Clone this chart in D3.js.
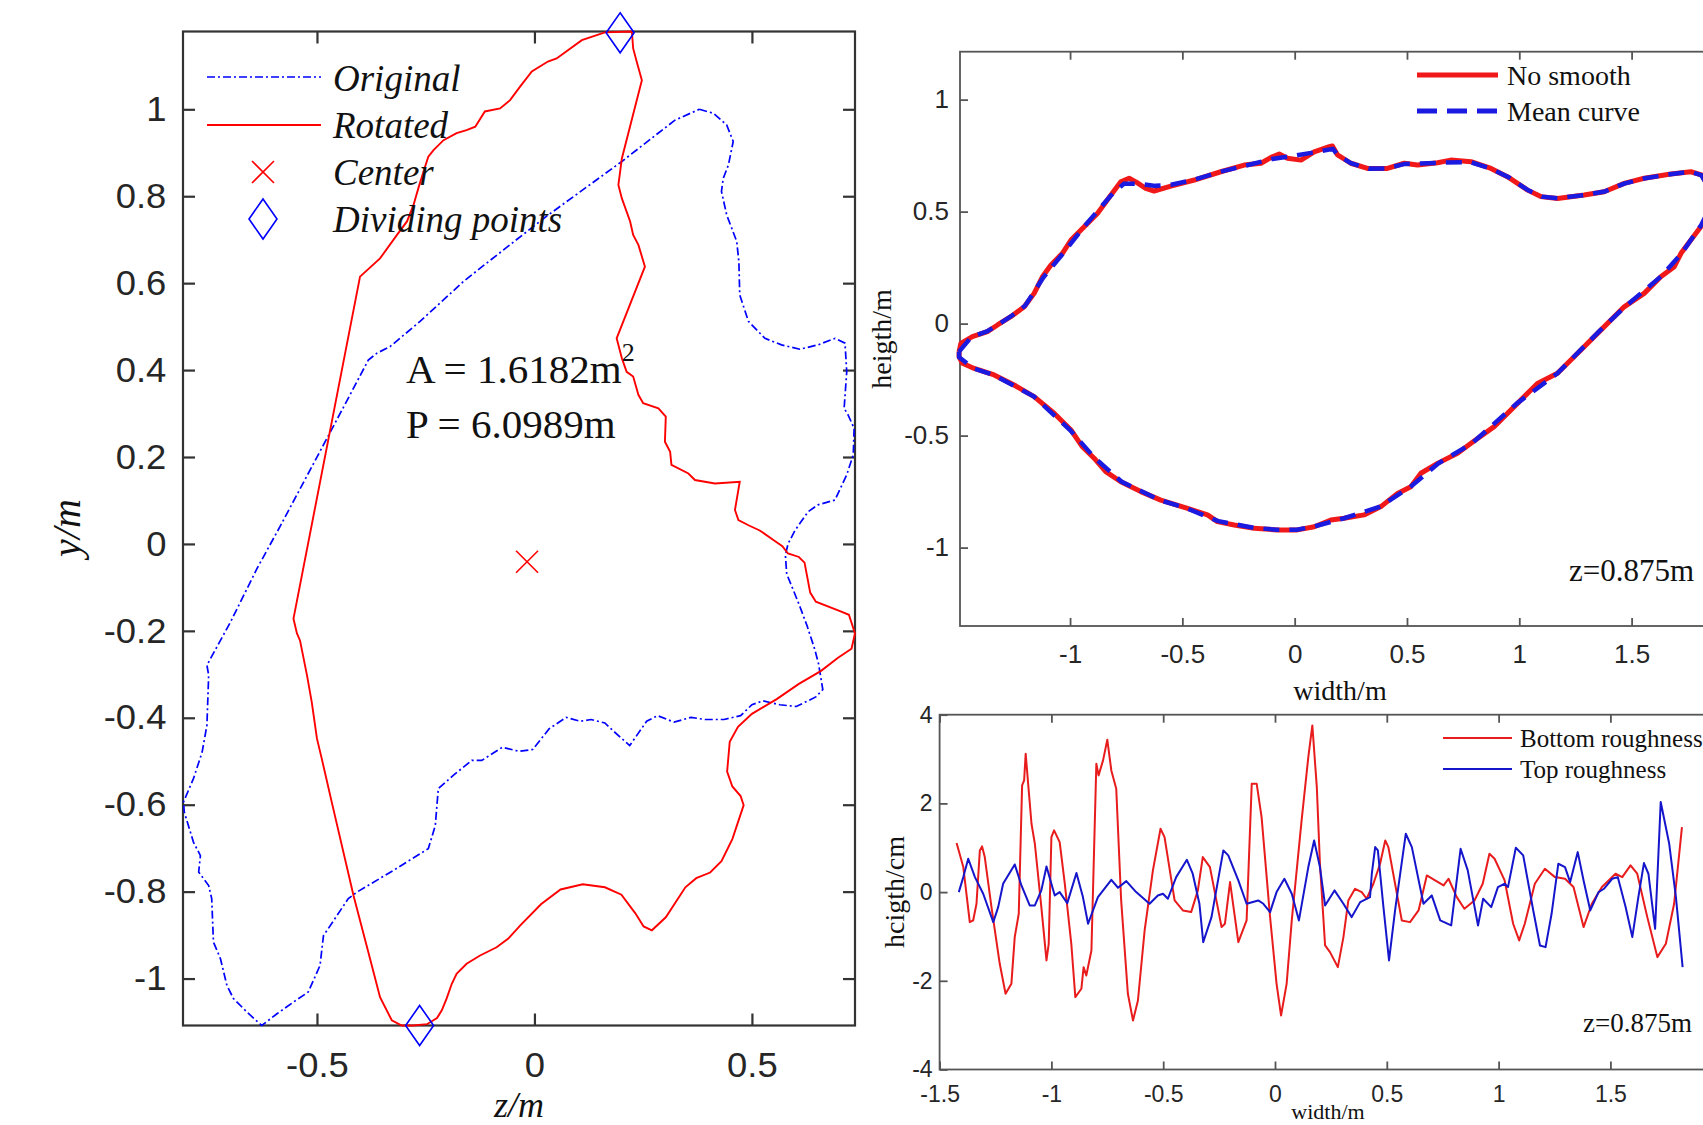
<!DOCTYPE html>
<html>
<head>
<meta charset="utf-8">
<title>section contour and roughness</title>
<script src="https://d3js.org/d3.v7.min.js"></script>
<style>
  body { margin: 0; background: #fff; }
</style>
</head>
<body>
<script>
// ---------- data ----------
// left panel: cross-section in the z-y plane (m)
var original = [[0.379,1.000],[0.411,0.991],[0.442,0.964],[0.457,0.926],[0.446,0.872],[0.434,0.841],[0.430,0.811],[0.442,0.757],[0.465,0.696],[0.470,0.650],[0.472,0.573],[0.492,0.512],[0.530,0.473],[0.568,0.458],[0.610,0.448],[0.652,0.458],[0.691,0.473],[0.714,0.462],[0.718,0.396],[0.712,0.312],[0.721,0.297],[0.735,0.266],[0.733,0.205],[0.718,0.159],[0.691,0.101],[0.652,0.090],[0.629,0.074],[0.599,0.031],[0.583,0.000],[0.577,-0.026],[0.580,-0.069],[0.608,-0.138],[0.627,-0.189],[0.644,-0.241],[0.653,-0.275],[0.663,-0.335],[0.647,-0.352],[0.602,-0.374],[0.564,-0.370],[0.525,-0.361],[0.500,-0.370],[0.474,-0.395],[0.436,-0.404],[0.392,-0.404],[0.360,-0.399],[0.321,-0.410],[0.283,-0.395],[0.258,-0.408],[0.219,-0.464],[0.181,-0.430],[0.162,-0.412],[0.130,-0.404],[0.105,-0.408],[0.073,-0.399],[0.034,-0.425],[-0.004,-0.473],[-0.036,-0.477],[-0.074,-0.468],[-0.121,-0.498],[-0.144,-0.498],[-0.186,-0.532],[-0.221,-0.563],[-0.228,-0.648],[-0.244,-0.701],[-0.324,-0.751],[-0.408,-0.801],[-0.428,-0.816],[-0.474,-0.885],[-0.485,-0.901],[-0.493,-0.970],[-0.520,-1.031],[-0.554,-1.054],[-0.592,-1.081],[-0.627,-1.108],[-0.661,-1.077],[-0.692,-1.046],[-0.707,-1.016],[-0.722,-0.954],[-0.738,-0.916],[-0.742,-0.816],[-0.749,-0.786],[-0.772,-0.755],[-0.768,-0.717],[-0.784,-0.686],[-0.805,-0.617],[-0.807,-0.594],[-0.784,-0.540],[-0.764,-0.479],[-0.753,-0.417],[-0.749,-0.302],[-0.753,-0.279],[-0.699,-0.180],[-0.638,-0.057],[-0.585,0.040],[-0.477,0.243],[-0.424,0.343],[-0.382,0.423],[-0.362,0.439],[-0.332,0.454],[-0.263,0.512],[-0.163,0.604],[-0.110,0.646],[-0.040,0.701],[0.032,0.757],[0.201,0.880],[0.323,0.975]];

var rotated = [[0.224,1.179],[0.162,1.177],[0.109,1.159],[0.051,1.117],[0.031,1.110],[-0.006,1.087],[-0.033,1.052],[-0.056,1.021],[-0.079,1.002],[-0.114,0.995],[-0.136,0.960],[-0.156,0.952],[-0.179,0.945],[-0.209,0.929],[-0.232,0.906],[-0.244,0.891],[-0.255,0.857],[-0.267,0.818],[-0.278,0.780],[-0.293,0.742],[-0.316,0.711],[-0.355,0.657],[-0.401,0.615],[-0.554,-0.172],[-0.546,-0.206],[-0.539,-0.222],[-0.523,-0.302],[-0.512,-0.364],[-0.500,-0.448],[-0.489,-0.494],[-0.466,-0.594],[-0.416,-0.809],[-0.382,-0.939],[-0.355,-1.043],[-0.328,-1.096],[-0.305,-1.108],[-0.278,-1.108],[-0.247,-1.105],[-0.224,-1.091],[-0.213,-1.073],[-0.202,-1.046],[-0.190,-1.012],[-0.179,-0.989],[-0.156,-0.966],[-0.125,-0.947],[-0.087,-0.928],[-0.060,-0.908],[-0.033,-0.878],[0.015,-0.829],[0.060,-0.795],[0.111,-0.783],[0.162,-0.790],[0.200,-0.807],[0.232,-0.850],[0.251,-0.880],[0.270,-0.889],[0.302,-0.859],[0.347,-0.790],[0.372,-0.769],[0.404,-0.756],[0.430,-0.730],[0.455,-0.679],[0.481,-0.601],[0.474,-0.580],[0.455,-0.558],[0.443,-0.524],[0.449,-0.455],[0.468,-0.421],[0.500,-0.391],[0.557,-0.357],[0.608,-0.322],[0.659,-0.292],[0.698,-0.262],[0.729,-0.241],[0.737,-0.206],[0.723,-0.163],[0.704,-0.155],[0.647,-0.133],[0.634,-0.112],[0.621,-0.043],[0.608,-0.030],[0.583,-0.022],[0.570,-0.005],[0.551,0.008],[0.518,0.031],[0.492,0.043],[0.469,0.055],[0.461,0.078],[0.472,0.143],[0.415,0.139],[0.369,0.147],[0.354,0.162],[0.315,0.182],[0.312,0.212],[0.300,0.235],[0.302,0.293],[0.285,0.312],[0.250,0.324],[0.239,0.343],[0.227,0.385],[0.212,0.396],[0.201,0.427],[0.189,0.473],[0.254,0.638],[0.239,0.688],[0.227,0.711],[0.220,0.742],[0.201,0.795],[0.193,0.826],[0.201,0.887],[0.247,1.067],[0.235,1.110],[0.227,1.140]];

var center = [-0.017, -0.041];
var dividing = [[0.197, 1.176], [-0.264, -1.108]];
var areaText = "A = 1.6182m", perimText = "P = 6.0989m";

// upper right: contour in the width-height plane (m)
var noSmooth = [[-1.494,-0.125],[-1.486,-0.088],[-1.435,-0.058],[-1.368,-0.036],[-1.323,-0.006],[-1.264,0.031],[-1.204,0.075],[-1.160,0.135],[-1.123,0.209],[-1.085,0.262],[-1.034,0.314],[-0.996,0.373],[-0.937,0.433],[-0.878,0.492],[-0.818,0.574],[-0.774,0.633],[-0.737,0.649],[-0.707,0.633],[-0.663,0.604],[-0.626,0.592],[-0.551,0.614],[-0.447,0.641],[-0.329,0.678],[-0.225,0.708],[-0.150,0.716],[-0.099,0.745],[-0.069,0.757],[-0.032,0.738],[0.028,0.730],[0.087,0.767],[0.154,0.790],[0.168,0.793],[0.191,0.753],[0.250,0.716],[0.324,0.693],[0.413,0.693],[0.488,0.716],[0.547,0.708],[0.636,0.718],[0.695,0.730],[0.785,0.723],[0.874,0.693],[0.947,0.656],[1.037,0.596],[1.096,0.567],[1.170,0.559],[1.289,0.574],[1.378,0.589],[1.467,0.626],[1.556,0.649],[1.675,0.668],[1.764,0.678],[1.814,0.663],[1.870,0.560],[1.814,0.440],[1.764,0.373],[1.720,0.314],[1.690,0.254],[1.630,0.209],[1.556,0.135],[1.467,0.075],[1.363,-0.029],[1.244,-0.148],[1.170,-0.222],[1.081,-0.267],[0.992,-0.356],[0.888,-0.460],[0.785,-0.534],[0.725,-0.579],[0.636,-0.624],[0.562,-0.668],[0.517,-0.728],[0.458,-0.758],[0.384,-0.817],[0.309,-0.854],[0.220,-0.869],[0.161,-0.877],[0.087,-0.907],[0.012,-0.921],[-0.077,-0.921],[-0.180,-0.914],[-0.269,-0.899],[-0.344,-0.884],[-0.388,-0.854],[-0.477,-0.825],[-0.596,-0.788],[-0.685,-0.750],[-0.774,-0.706],[-0.841,-0.661],[-0.893,-0.601],[-0.945,-0.550],[-0.996,-0.475],[-1.071,-0.400],[-1.160,-0.326],[-1.249,-0.274],[-1.338,-0.229],[-1.427,-0.200],[-1.479,-0.177],[-1.494,-0.148]];

var meanCurve = [[-1.494,-0.125],[-1.440,-0.060],[-1.370,-0.035],[-1.320,-0.005],[-1.260,0.035],[-1.200,0.080],[-1.120,0.205],[-1.030,0.315],[-0.940,0.430],[-0.820,0.570],[-0.760,0.625],[-0.700,0.625],[-0.620,0.615],[-0.550,0.620],[-0.450,0.642],[-0.330,0.678],[-0.220,0.705],[-0.100,0.735],[0.000,0.750],[0.090,0.765],[0.170,0.780],[0.190,0.755],[0.250,0.716],[0.330,0.692],[0.410,0.693],[0.490,0.713],[0.640,0.718],[0.780,0.722],[0.870,0.693],[0.950,0.655],[1.040,0.595],[1.100,0.567],[1.170,0.560],[1.290,0.574],[1.380,0.590],[1.470,0.626],[1.560,0.649],[1.680,0.668],[1.760,0.678],[1.810,0.663],[1.870,0.560],[1.810,0.440],[1.720,0.310],[1.630,0.210],[1.470,0.075],[1.360,-0.030],[1.170,-0.222],[0.990,-0.356],[0.790,-0.534],[0.640,-0.624],[0.520,-0.725],[0.380,-0.817],[0.220,-0.869],[0.090,-0.905],[0.010,-0.920],[-0.080,-0.920],[-0.180,-0.912],[-0.340,-0.882],[-0.480,-0.825],[-0.600,-0.788],[-0.770,-0.706],[-0.890,-0.600],[-1.000,-0.475],[-1.160,-0.326],[-1.340,-0.229],[-1.430,-0.200],[-1.494,-0.150]];

// lower right: roughness profiles (width m, height cm)
var bottomRough = [[-1.424,1.105],[-1.394,0.564],[-1.365,-0.677],[-1.350,-0.639],[-1.335,-0.263],[-1.320,0.940],[-1.310,1.030],[-1.298,0.789],[-1.268,-0.338],[-1.231,-1.617],[-1.205,-2.293],[-1.179,-2.068],[-1.164,-1.015],[-1.146,-0.489],[-1.131,2.406],[-1.122,2.519],[-1.115,3.120],[-1.104,2.444],[-1.089,1.541],[-1.074,1.090],[-1.045,-0.338],[-1.022,-1.541],[-1.012,-1.165],[-1.000,1.241],[-0.988,1.391],[-0.963,1.128],[-0.940,0.188],[-0.911,-1.165],[-0.893,-2.368],[-0.866,-2.180],[-0.856,-1.692],[-0.844,-1.880],[-0.821,-1.316],[-0.799,2.895],[-0.789,2.632],[-0.769,2.970],[-0.750,3.436],[-0.732,2.744],[-0.710,2.331],[-0.688,-0.188],[-0.658,-2.293],[-0.635,-2.895],[-0.613,-2.444],[-0.583,-0.865],[-0.546,0.489],[-0.512,1.429],[-0.494,1.241],[-0.449,-0.188],[-0.412,-0.414],[-0.375,-0.451],[-0.345,0.038],[-0.323,0.789],[-0.291,0.564],[-0.239,-0.789],[-0.224,-0.714],[-0.201,0.226],[-0.164,-1.128],[-0.127,-0.639],[-0.104,2.444],[-0.082,2.444],[-0.060,1.692],[-0.022,-0.564],[0.007,-2.068],[0.027,-2.782],[0.052,-2.068],[0.075,-0.639],[0.119,1.617],[0.149,3.045],[0.167,3.759],[0.187,2.368],[0.201,0.639],[0.224,-1.203],[0.246,-1.353],[0.281,-1.692],[0.306,-1.015],[0.328,-0.188],[0.358,0.075],[0.388,0.000],[0.410,-0.150],[0.440,0.188],[0.470,0.639],[0.493,1.165],[0.507,1.015],[0.537,0.188],[0.567,-0.639],[0.604,-0.677],[0.642,-0.414],[0.679,0.376],[0.716,0.263],[0.754,0.150],[0.776,0.301],[0.813,-0.113],[0.847,-0.376],[0.892,-0.188],[0.929,0.188],[0.959,0.865],[0.982,0.752],[1.027,0.263],[1.065,-0.714],[1.092,-1.090],[1.117,-0.714],[1.162,0.188],[1.207,0.526],[1.252,0.338],[1.297,0.301],[1.335,0.113],[1.380,-0.789],[1.417,-0.263],[1.462,0.113],[1.523,0.414],[1.553,0.338],[1.590,0.602],[1.620,0.414],[1.665,-0.564],[1.710,-1.466],[1.748,-1.165],[1.785,-0.263],[1.820,1.466]];

var topRough = [[-1.414,0.000],[-1.394,0.338],[-1.372,0.752],[-1.342,0.338],[-1.305,-0.038],[-1.260,-0.677],[-1.238,-0.338],[-1.216,0.188],[-1.164,0.624],[-1.134,0.150],[-1.097,-0.301],[-1.074,-0.301],[-1.045,0.038],[-1.022,0.579],[-0.985,-0.075],[-0.963,0.000],[-0.929,-0.248],[-0.888,0.429],[-0.859,-0.113],[-0.836,-0.714],[-0.792,-0.113],[-0.732,0.278],[-0.702,0.098],[-0.665,0.248],[-0.621,0.000],[-0.561,-0.263],[-0.524,-0.075],[-0.501,-0.038],[-0.479,-0.150],[-0.442,0.338],[-0.394,0.729],[-0.368,0.414],[-0.338,-0.263],[-0.321,-1.128],[-0.284,-0.564],[-0.231,0.940],[-0.209,0.827],[-0.164,0.263],[-0.127,-0.263],[-0.075,-0.188],[-0.052,-0.263],[-0.022,-0.451],[0.007,0.000],[0.042,0.301],[0.075,-0.038],[0.107,-0.639],[0.149,0.564],[0.175,1.165],[0.201,0.564],[0.224,-0.301],[0.266,0.038],[0.306,-0.263],[0.343,-0.564],[0.381,-0.226],[0.425,-0.113],[0.433,0.414],[0.448,1.015],[0.460,0.940],[0.485,-0.338],[0.510,-1.541],[0.537,-0.414],[0.585,1.316],[0.612,1.015],[0.664,-0.263],[0.701,-0.075],[0.739,-0.639],[0.788,-0.752],[0.830,0.977],[0.862,0.489],[0.908,-0.752],[0.931,-0.150],[0.967,-0.338],[0.997,0.113],[1.027,0.188],[1.042,0.113],[1.077,1.000],[1.110,0.827],[1.155,-0.414],[1.185,-1.203],[1.210,-1.241],[1.237,-0.489],[1.267,0.639],[1.297,0.564],[1.320,0.226],[1.354,0.902],[1.380,0.263],[1.410,-0.414],[1.447,0.000],[1.471,0.075],[1.508,0.301],[1.533,0.338],[1.568,-0.338],[1.598,-1.015],[1.625,-0.113],[1.650,0.654],[1.670,0.414],[1.700,-0.827],[1.725,2.030],[1.763,1.090],[1.793,-0.113],[1.823,-1.692]];

// ticks
var leftXTicks = [-0.5, 0, 0.5];
var leftYTicks = [-1, -0.8, -0.6, -0.4, -0.2, 0, 0.2, 0.4, 0.6, 0.8, 1];
var topXTicks = [-1, -0.5, 0, 0.5, 1, 1.5];
var topYTicks = [-1, -0.5, 0, 0.5, 1];
var botXTicks = [-1.5, -1, -0.5, 0, 0.5, 1, 1.5];
var botYTicks = [-4, -2, 0, 2, 4];

// ---------- drawing ----------
var sans = "'Liberation Sans', Arial, Helvetica, sans-serif";
var serif = "'Liberation Serif', 'Times New Roman', Times, serif";
function fmt(d) { return String(+d.toFixed(2)); }
function closed(a) { return a.concat([a[0]]); }

var svg = d3.select('body').append('svg')
  .attr('width', 1703).attr('height', 1125);

// helper to draw inward ticks on all requested sides
function axes(g, x, y, opt) {
  var x0 = x.range()[0], x1 = x.range()[1], y0 = y.range()[0], y1 = y.range()[1];
  g.append('g').attr('transform', 'translate(0,' + y0 + ')')
    .call(d3.axisBottom(x).tickValues(opt.xt).tickSize(-opt.tl).tickPadding(opt.xpad).tickFormat(fmt));
  g.append('g').attr('transform', 'translate(' + x0 + ',0)')
    .call(d3.axisLeft(y).tickValues(opt.yt).tickSize(-opt.tl).tickPadding(opt.ypad).tickFormat(fmt));
  g.append('g').attr('transform', 'translate(0,' + y1 + ')')
    .call(d3.axisTop(x).tickValues(opt.xt).tickSize(-opt.tl).tickFormat(''));
  if (opt.right) {
    g.append('g').attr('transform', 'translate(' + x1 + ',0)')
      .call(d3.axisRight(y).tickValues(opt.yt).tickSize(-opt.tl).tickFormat(''));
  }
  g.selectAll('.domain').remove();
  g.selectAll('g').attr('font-family', sans).attr('font-size', opt.fs).attr('color', opt.col);
  g.selectAll('.tick line').attr('stroke-width', opt.sw);
  g.selectAll('.tick text').attr('fill', '#262626');
  if (opt.sx) g.selectAll('.tick text').attr('transform', 'scale(' + opt.sx + ',1)');
  g.append('rect').attr('x', x0).attr('y', y1)
    .attr('width', x1 - x0).attr('height', y0 - y1)
    .attr('fill', 'none').attr('stroke', opt.col).attr('stroke-width', opt.sw);
}

// ----- left panel -----
var ax = d3.scaleLinear().domain([-0.808, 0.737]).range([183, 855]);
var ay = d3.scaleLinear().domain([-1.108, 1.179]).range([1025.5, 31.5]);
var gl = svg.append('g');
axes(gl, ax, ay, { xt: leftXTicks, yt: leftYTicks, tl: 12, xpad: 27, ypad: 16,
  fs: 35, col: '#333', sw: 2.2, right: true, sx: 1.04 });

var lineA = d3.line().x(function (d) { return ax(d[0]); }).y(function (d) { return ay(d[1]); });
gl.append('path').datum(closed(original)).attr('d', lineA)
  .attr('fill', 'none').attr('stroke', '#0000ff').attr('stroke-width', 1.7)
  .attr('stroke-dasharray', '8,3,2,3');
gl.append('path').datum(closed(rotated)).attr('d', lineA)
  .attr('fill', 'none').attr('stroke', '#ff0000').attr('stroke-width', 1.9);

var crossPath = 'M-11,-11L11,11M-11,11L11,-11';
var diamondPath = 'M0,-20L14,0L0,20L-14,0Z';
gl.append('path').attr('d', crossPath)
  .attr('transform', 'translate(' + ax(center[0]) + ',' + ay(center[1]) + ')')
  .attr('stroke', '#ff0000').attr('stroke-width', 1.6).attr('fill', 'none');
gl.selectAll('.divp').data(dividing).enter().append('path').attr('class', 'divp')
  .attr('d', diamondPath)
  .attr('transform', function (d) { return 'translate(' + ax(d[0]) + ',' + ay(d[1]) + ')'; })
  .attr('stroke', '#0000ff').attr('stroke-width', 1.6).attr('fill', 'none');

// left legend
var leg = gl.append('g').attr('font-family', serif).attr('font-style', 'italic').attr('font-size', 37).attr('fill', '#111');
leg.append('line').attr('x1', 207).attr('x2', 321).attr('y1', 77).attr('y2', 77)
  .attr('stroke', '#0000ff').attr('stroke-width', 1.7).attr('stroke-dasharray', '8,3,2,3');
leg.append('line').attr('x1', 207).attr('x2', 321).attr('y1', 125).attr('y2', 125)
  .attr('stroke', '#ff0000').attr('stroke-width', 1.9);
leg.append('path').attr('d', crossPath).attr('transform', 'translate(263,172)')
  .attr('stroke', '#ff0000').attr('stroke-width', 1.6).attr('fill', 'none');
leg.append('path').attr('d', diamondPath).attr('transform', 'translate(263,219)')
  .attr('stroke', '#0000ff').attr('stroke-width', 1.6).attr('fill', 'none');
['Original', 'Rotated', 'Center', 'Dividing points'].forEach(function (t, i) {
  leg.append('text').attr('x', 333).attr('y', 91 + i * 47).text(t);
});

// area / perimeter annotation
var ann = gl.append('g').attr('font-family', serif).attr('font-size', 41).attr('fill', '#111');
var at = ann.append('text').attr('x', 406).attr('y', 383).text(areaText);
at.append('tspan').attr('font-size', 26).attr('dy', -22).text('2');
ann.append('text').attr('x', 406).attr('y', 438).text(perimText);

// axis titles
gl.append('text').attr('transform', 'translate(80,528) rotate(-90)')
  .attr('text-anchor', 'middle').attr('font-family', serif).attr('font-style', 'italic')
  .attr('font-size', 40).attr('fill', '#111').text('y/m');
gl.append('text').attr('x', 519).attr('y', 1117)
  .attr('text-anchor', 'middle').attr('font-family', serif).attr('font-style', 'italic')
  .attr('font-size', 36).attr('fill', '#111').text('z/m');

// ----- upper right panel -----
var bx = d3.scaleLinear().domain([-1.49, 2.0]).range([960, 1743.9]);
var by = d3.scaleLinear().domain([-1.35, 1.214]).range([626, 51.7]);
var gt = svg.append('g');
axes(gt, bx, by, { xt: topXTicks, yt: topYTicks, tl: 8, xpad: 19, ypad: 11,
  fs: 26, col: '#555', sw: 1.8, right: false });

var lineB = d3.line().x(function (d) { return bx(d[0]); }).y(function (d) { return by(d[1]); });
gt.append('path').datum(closed(noSmooth)).attr('d', lineB)
  .attr('fill', 'none').attr('stroke', '#f01818').attr('stroke-width', 5)
  .attr('stroke-linejoin', 'round');
gt.append('path').datum(closed(meanCurve)).attr('d', lineB)
  .attr('fill', 'none').attr('stroke', '#1a1ae0').attr('stroke-width', 4.5)
  .attr('stroke-dasharray', '16,10');

var legB = gt.append('g').attr('font-family', serif).attr('font-size', 28).attr('fill', '#111');
legB.append('line').attr('x1', 1417).attr('x2', 1498).attr('y1', 75).attr('y2', 75)
  .attr('stroke', '#f01818').attr('stroke-width', 5);
legB.append('line').attr('x1', 1417).attr('x2', 1498).attr('y1', 111).attr('y2', 111)
  .attr('stroke', '#1a1ae0').attr('stroke-width', 5).attr('stroke-dasharray', '20,10');
legB.append('text').attr('x', 1507).attr('y', 85).text('No smooth');
legB.append('text').attr('x', 1507).attr('y', 121).text('Mean curve');
gt.append('text').attr('x', 1569).attr('y', 581).attr('font-family', serif)
  .attr('font-size', 31).attr('fill', '#111').text('z=0.875m');
gt.append('text').attr('x', 1340).attr('y', 700).attr('text-anchor', 'middle')
  .attr('font-family', serif).attr('font-size', 28).attr('fill', '#111').text('width/m');
gt.append('text').attr('transform', 'translate(891,339) rotate(-90)').attr('text-anchor', 'middle')
  .attr('font-family', serif).attr('font-size', 28).attr('fill', '#111').text('heigth/m');

// ----- lower right panel -----
var cx = d3.scaleLinear().domain([-1.5, 2]).range([939.6, 1722.2]);
var cy = d3.scaleLinear().domain([-4, 4]).range([1069.5, 714.7]);
var gb = svg.append('g');
axes(gb, cx, cy, { xt: botXTicks, yt: botYTicks, tl: 8, xpad: 16, ypad: 7,
  fs: 23, col: '#555', sw: 1.8, right: false });

var lineC = d3.line().x(function (d) { return cx(d[0]); }).y(function (d) { return cy(d[1]); });
gb.append('path').datum(bottomRough).attr('d', lineC)
  .attr('fill', 'none').attr('stroke', '#e81c1c').attr('stroke-width', 2)
  .attr('stroke-linejoin', 'round');
gb.append('path').datum(topRough).attr('d', lineC)
  .attr('fill', 'none').attr('stroke', '#1515cc').attr('stroke-width', 2)
  .attr('stroke-linejoin', 'round');

var legC = gb.append('g').attr('font-family', serif).attr('font-size', 25).attr('fill', '#111');
legC.append('line').attr('x1', 1443).attr('x2', 1512).attr('y1', 738).attr('y2', 738)
  .attr('stroke', '#e81c1c').attr('stroke-width', 2);
legC.append('line').attr('x1', 1443).attr('x2', 1512).attr('y1', 769).attr('y2', 769)
  .attr('stroke', '#1515cc').attr('stroke-width', 2);
legC.append('text').attr('x', 1520).attr('y', 747).text('Bottom roughness');
legC.append('text').attr('x', 1520).attr('y', 778).text('Top roughness');
gb.append('text').attr('x', 1583).attr('y', 1032).attr('font-family', serif)
  .attr('font-size', 27).attr('fill', '#111').text('z=0.875m');
gb.append('text').attr('x', 1328).attr('y', 1119).attr('text-anchor', 'middle')
  .attr('font-family', serif).attr('font-size', 22).attr('fill', '#111').text('width/m');
gb.append('text').attr('transform', 'translate(904,892) rotate(-90)').attr('text-anchor', 'middle')
  .attr('font-family', serif).attr('font-size', 28).attr('fill', '#111').text('hcigth/cm');
</script>
</body>
</html>
